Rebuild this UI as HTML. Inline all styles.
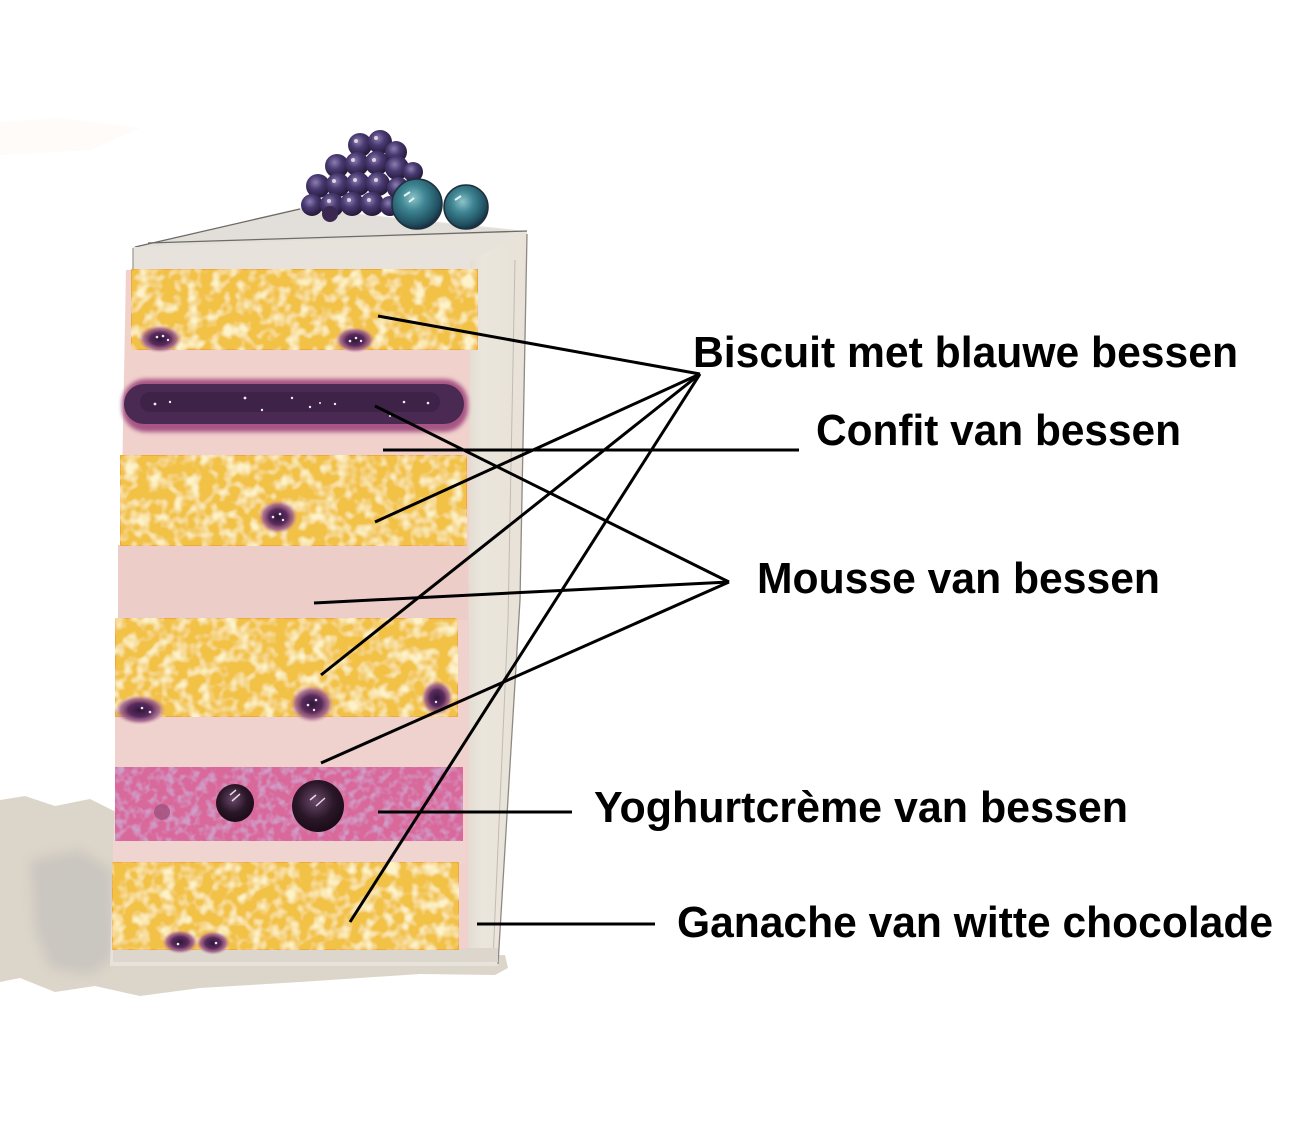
<!DOCTYPE html>
<html><head><meta charset="utf-8">
<style>
html,body{margin:0;padding:0;background:#fff;}
svg{display:block;}
text{font-family:"Liberation Sans",Arial,sans-serif;font-weight:bold;fill:#000;}
</style></head>
<body>
<svg width="1299" height="1122" viewBox="0 0 1299 1122" xmlns="http://www.w3.org/2000/svg">
<defs>
  <filter id="sponge" x="0" y="0" width="100%" height="100%">
    <feTurbulence type="fractalNoise" baseFrequency="0.08" numOctaves="2" seed="4" result="n"/>
    <feColorMatrix in="n" type="matrix" values="0 0 0 0 0.98  0 0 0 0 0.89  0 0 0 0 0.58  3.0 0 0 0 -1.3" result="spots"/>
    <feComposite in="spots" in2="SourceGraphic" operator="atop"/>
  </filter>
  <filter id="yog" x="0" y="0" width="100%" height="100%">
    <feTurbulence type="fractalNoise" baseFrequency="0.12" numOctaves="2" seed="9" result="n"/>
    <feColorMatrix in="n" type="matrix" values="0 0 0 0 0.62  0 0 0 0 0.34  0 0 0 0 0.58  3 0 0 0 -1.3" result="spots"/>
    <feComposite in="spots" in2="SourceGraphic" operator="atop"/>
  </filter>
  <filter id="blur2"><feGaussianBlur stdDeviation="2"/></filter>
  <filter id="blur6"><feGaussianBlur stdDeviation="6"/></filter>
  <radialGradient id="blot" cx="50%" cy="50%" r="50%">
    <stop offset="0" stop-color="#2e1838"/>
    <stop offset="0.45" stop-color="#5a2a5e"/>
    <stop offset="0.75" stop-color="#9a5a8a" stop-opacity="0.8"/>
    <stop offset="1" stop-color="#d79ab0" stop-opacity="0"/>
  </radialGradient>
  <radialGradient id="drup" cx="40%" cy="35%" r="65%">
    <stop offset="0" stop-color="#8a7fb0"/>
    <stop offset="0.45" stop-color="#4a3a72"/>
    <stop offset="1" stop-color="#241a3a"/>
  </radialGradient>
  <radialGradient id="blue" cx="42%" cy="38%" r="62%">
    <stop offset="0" stop-color="#8cc4c8"/>
    <stop offset="0.4" stop-color="#3f8593"/>
    <stop offset="0.85" stop-color="#1f4f60"/>
    <stop offset="1" stop-color="#1a3040"/>
  </radialGradient>
  <radialGradient id="dberry" cx="45%" cy="40%" r="60%">
    <stop offset="0" stop-color="#6a4a6a"/>
    <stop offset="0.6" stop-color="#2a1628"/>
    <stop offset="1" stop-color="#1a0c18"/>
  </radialGradient>
  <linearGradient id="side" x1="0" x2="1" y1="0" y2="0">
    <stop offset="0" stop-color="#dcd5ca"/>
    <stop offset="0.35" stop-color="#ebe6dd"/>
    <stop offset="1" stop-color="#e7e1d7"/>
  </linearGradient>
</defs>

<!-- faint top-left wash -->
<path d="M0,122 L60,118 L140,128 L90,150 L0,155 Z" fill="#fdf8f4" opacity="0.5"/>

<!-- bottom-left stain -->
<path d="M0,800 L25,796 L55,806 L90,799 L116,812 L116,950 L160,958 L320,960 L505,955 L508,968 L495,975 L420,974 L300,982 L200,988 L140,996 L95,986 L55,992 L20,978 L0,982 Z" fill="#dcd5c9"/>
<path d="M30,860 L80,850 L112,870 L114,958 L90,975 L50,968 L35,930 Z" fill="#cac6c0" filter="url(#blur6)"/>

<!-- cake body frosting -->
<polygon points="133,247 300,208 527,231 520,600 498,966 110,966 112,900 124,500" fill="#e8e3da"/>
<!-- side face -->
<polygon points="466,262 527,234 520,600 498,964 458,958" fill="url(#side)"/>
<path d="M527,234 L520,600 L498,964" fill="none" stroke="#8e8982" stroke-width="1.3"/>
<path d="M515,260 L508,620 L493,960" fill="none" stroke="#b0aaa2" stroke-width="1" opacity="0.7"/>
<!-- top face -->
<polygon points="135,247 300,209 527,232" fill="#e2dfdb"/>
<path d="M135,247 L300,209" stroke="#6e6a66" stroke-width="1.3" fill="none"/>
<path d="M148,243 L527,231" stroke="#6e6a66" stroke-width="1.3" fill="none"/>
<path d="M133,248 L133,270" stroke="#9a958e" stroke-width="1.2"/>
<!-- top frosting band -->
<rect x="134" y="247" width="336" height="24" fill="#e7e3dc"/>

<!-- pink base -->
<polygon points="126,270 470,270 468,955 113,955" fill="#f1d1cc"/>
<rect x="118" y="545" width="350" height="75" fill="#edcdc8"/>
<rect x="115" y="717" width="352" height="50" fill="#efd2cd"/>
<rect x="113" y="840" width="352" height="24" fill="#f0d4cf"/>
<rect x="113" y="948" width="385" height="14" fill="#dcd6cc"/>

<!-- Biscuits -->
<rect x="131" y="269" width="347" height="81" rx="3" fill="#f2c246" stroke="#eda93a" stroke-width="2" filter="url(#sponge)"/>
<rect x="120" y="455" width="347" height="91" rx="3" fill="#f2c246" stroke="#eda93a" stroke-width="2" filter="url(#sponge)"/>
<rect x="115" y="618" width="343" height="99" rx="3" fill="#f2c246" stroke="#eda93a" stroke-width="2" filter="url(#sponge)"/>
<rect x="112" y="862" width="347" height="88" rx="3" fill="#f2c246" stroke="#eda93a" stroke-width="2" filter="url(#sponge)"/>

<!-- Confit -->
<rect x="122" y="379" width="346" height="53" rx="24" fill="#9a4078" filter="url(#blur2)" opacity="0.85"/>
<rect x="124" y="384" width="340" height="40" rx="20" fill="#4a2a52"/>
<rect x="140" y="392" width="300" height="20" rx="10" fill="#3c2146" opacity="0.8"/>
<g fill="#f4ecf2">
  <circle cx="155" cy="404" r="1.4"/><circle cx="170" cy="402" r="1.2"/><circle cx="245" cy="398" r="1.4"/>
  <circle cx="262" cy="410" r="1.2"/><circle cx="292" cy="398" r="1.2"/><circle cx="310" cy="407" r="1.2"/>
  <circle cx="320" cy="403" r="1"/><circle cx="335" cy="404" r="1.2"/><circle cx="404" cy="402" r="1.3"/>
  <circle cx="428" cy="403" r="1.3"/><circle cx="390" cy="416" r="1"/>
</g>

<!-- Yoghurt layer -->
<rect x="115" y="767" width="348" height="74" fill="#d9679b" filter="url(#yog)"/>
<circle cx="162" cy="812" r="8" fill="#a0507e" opacity="0.8"/>
<circle cx="235" cy="803" r="19" fill="url(#dberry)"/>
<circle cx="318" cy="806" r="26" fill="url(#dberry)"/>
<g stroke="#e8d8e4" stroke-width="1.5">
  <path d="M230,795 L236,790 M232,801 L240,794"/>
  <path d="M310,800 L316,795 M316,806 L325,798"/>
</g>

<!-- berry blots in biscuits -->
<ellipse cx="160" cy="339" rx="22" ry="14" fill="url(#blot)"/>
<ellipse cx="355" cy="340" rx="20" ry="13" fill="url(#blot)"/>
<ellipse cx="278" cy="517" rx="20" ry="17" fill="url(#blot)"/>
<ellipse cx="140" cy="710" rx="26" ry="15" fill="url(#blot)"/>
<ellipse cx="312" cy="704" rx="22" ry="19" fill="url(#blot)"/>
<ellipse cx="437" cy="698" rx="16" ry="18" fill="url(#blot)"/>
<ellipse cx="180" cy="942" rx="18" ry="12" fill="url(#blot)"/>
<ellipse cx="213" cy="943" rx="17" ry="12" fill="url(#blot)"/>
<g fill="#f3eaf0">
  <circle cx="157" cy="337" r="1.3"/><circle cx="163" cy="336" r="1.3"/><circle cx="168" cy="340" r="1.2"/>
  <circle cx="350" cy="341" r="1.3"/><circle cx="356" cy="338" r="1.3"/><circle cx="361" cy="341" r="1.2"/>
  <circle cx="273" cy="517" r="1.3"/><circle cx="280" cy="514" r="1.3"/><circle cx="283" cy="520" r="1.2"/>
  <circle cx="142" cy="708" r="1.3"/><circle cx="150" cy="712" r="1.3"/>
  <circle cx="308" cy="705" r="1.3"/><circle cx="316" cy="700" r="1.3"/><circle cx="314" cy="710" r="1.2"/>
  <circle cx="436" cy="702" r="1.2"/>
  <circle cx="178" cy="944" r="1.3"/><circle cx="216" cy="943" r="1.3"/>
</g>

<!-- blackberry -->
<g>
  <circle cx="360" cy="145" r="12" fill="url(#drup)"/>
  <circle cx="380" cy="142" r="12" fill="url(#drup)"/>
  <circle cx="396" cy="152" r="11" fill="url(#drup)"/>
  <circle cx="337" cy="166" r="12" fill="url(#drup)"/>
  <circle cx="357" cy="164" r="12" fill="url(#drup)"/>
  <circle cx="377" cy="163" r="12" fill="url(#drup)"/>
  <circle cx="397" cy="168" r="12" fill="url(#drup)"/>
  <circle cx="413" cy="172" r="10" fill="url(#drup)"/>
  <circle cx="318" cy="186" r="12" fill="url(#drup)"/>
  <circle cx="338" cy="185" r="12" fill="url(#drup)"/>
  <circle cx="358" cy="184" r="12" fill="url(#drup)"/>
  <circle cx="378" cy="184" r="12" fill="url(#drup)"/>
  <circle cx="398" cy="188" r="11" fill="url(#drup)"/>
  <circle cx="312" cy="205" r="11" fill="url(#drup)"/>
  <circle cx="332" cy="205" r="12" fill="url(#drup)"/>
  <circle cx="352" cy="204" r="12" fill="url(#drup)"/>
  <circle cx="372" cy="204" r="12" fill="url(#drup)"/>
  <circle cx="390" cy="206" r="10" fill="url(#drup)"/>
  <circle cx="330" cy="214" r="8" fill="#3a2850"/>
</g>
<g fill="#f0dbe8" opacity="0.9">
  <circle cx="356" cy="141" r="2"/><circle cx="376" cy="138" r="2"/><circle cx="353" cy="160" r="2"/>
  <circle cx="374" cy="160" r="2"/><circle cx="334" cy="181" r="2"/><circle cx="355" cy="180" r="2"/>
  <circle cx="376" cy="180" r="2"/><circle cx="329" cy="201" r="2"/><circle cx="349" cy="200" r="2"/><circle cx="369" cy="200" r="2"/>
</g>
<!-- blueberries -->
<circle cx="417" cy="204" r="25" fill="url(#blue)" stroke="#1c2f3c" stroke-width="1.5"/>
<circle cx="466" cy="207" r="22" fill="url(#blue)" stroke="#1c2f3c" stroke-width="1.5"/>
<path d="M404,196 L410,192 M409,202 L414,198" stroke="#e5f2f2" stroke-width="2"/>
<path d="M455,200 L461,196" stroke="#e5f2f2" stroke-width="2"/>

<!-- connector lines -->
<g stroke="#000" stroke-width="3" fill="none" stroke-linecap="butt">
  <line x1="378" y1="316" x2="700" y2="374"/>
  <line x1="375" y1="522" x2="700" y2="374"/>
  <line x1="321" y1="675" x2="700" y2="374"/>
  <line x1="350" y1="922" x2="700" y2="374"/>
  <line x1="375" y1="406" x2="729" y2="582"/>
  <line x1="314" y1="603" x2="729" y2="582"/>
  <line x1="321" y1="763" x2="729" y2="582"/>
  <line x1="383" y1="450" x2="799" y2="450"/>
  <line x1="378" y1="812" x2="572" y2="812"/>
  <line x1="477" y1="924" x2="655" y2="924"/>
</g>

<!-- labels -->
<text x="693" y="367" font-size="44" textLength="545" lengthAdjust="spacingAndGlyphs">Biscuit met blauwe bessen</text>
<text x="816" y="445" font-size="44" textLength="365" lengthAdjust="spacingAndGlyphs">Confit van bessen</text>
<text x="757" y="593" font-size="44" textLength="403" lengthAdjust="spacingAndGlyphs">Mousse van bessen</text>
<text x="594" y="822" font-size="44" textLength="534" lengthAdjust="spacingAndGlyphs">Yoghurtcrème van bessen</text>
<text x="677" y="937" font-size="44" textLength="596" lengthAdjust="spacingAndGlyphs">Ganache van witte chocolade</text>
</svg>
</body></html>
